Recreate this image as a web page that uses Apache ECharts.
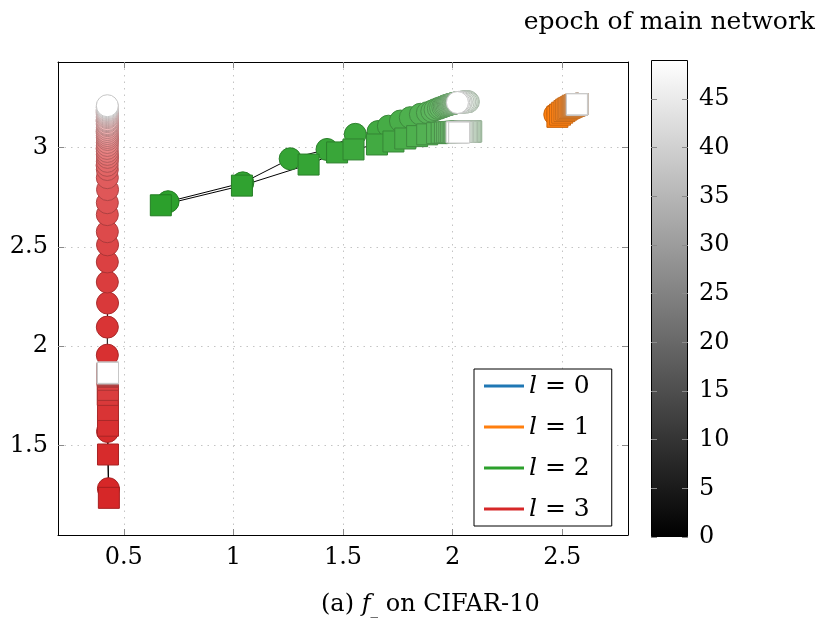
<!DOCTYPE html>
<html>
<head>
<meta charset="utf-8">
<script src="https://cdn.jsdelivr.net/npm/echarts@6/dist/echarts.min.js"></script>
<style>html,body{margin:0;padding:0;background:#fff}#c{width:824px;height:626px}</style>
</head>
<body>
<div id="c"></div>
<script>
// ---- data ----
const epochs = [0,1,2,3,4,5,6,7,8,9,10,11,12,13,14,15,16,17,18,19,20,21,22,23,24,25,26,27,28,29,30,31,32,33,34,35,36,37,38,39,40,41,42,43,44,45,46,47,48,49];
const legendNames = ['l = 0', 'l = 1', 'l = 2', 'l = 3'];
const xTicks = [0.5, 1, 1.5, 2, 2.5];
const yTicks = [1.5, 2, 2.5, 3];
const cbTicks = [0, 5, 10, 15, 20, 25, 30, 35, 40, 45];
const cbRange = [0, 49];

// l = 1 (orange)
const l1CircX = [2.466,2.48,2.492,2.502,2.512,2.52,2.528,2.534,2.54,2.545,2.549,2.552,2.554,2.556,2.558,2.559,2.56,2.561,2.562,2.563,2.563,2.564,2.564,2.565,2.565,2.565,2.566,2.566,2.566,2.566,2.567,2.567,2.567,2.567,2.567,2.568,2.568,2.568,2.568,2.568,2.568,2.568,2.568,2.567,2.567,2.567,2.567,2.566,2.566,2.566];
const l1CircY = [3.166,3.172,3.18,3.186,3.192,3.197,3.201,3.204,3.207,3.209,3.21,3.211,3.212,3.213,3.214,3.214,3.215,3.215,3.215,3.216,3.216,3.216,3.216,3.217,3.217,3.217,3.217,3.217,3.217,3.217,3.217,3.217,3.218,3.218,3.218,3.218,3.218,3.218,3.218,3.218,3.218,3.218,3.218,3.217,3.217,3.217,3.217,3.217,3.217,3.217];
const l1SqX = [2.478,2.49,2.50,2.51,2.518,2.525,2.532,2.538,2.543,2.547,2.55,2.553,2.555,2.557,2.559,2.56,2.561,2.562,2.563,2.564,2.564,2.565,2.565,2.566,2.566,2.566,2.567,2.567,2.567,2.568,2.568,2.568,2.568,2.569,2.569,2.569,2.569,2.57,2.57,2.57,2.57,2.57,2.57,2.569,2.569,2.569,2.568,2.568,2.568,2.567];
const l1SqY = [3.154,3.165,3.175,3.183,3.19,3.195,3.199,3.202,3.205,3.207,3.209,3.21,3.211,3.212,3.213,3.213,3.214,3.214,3.215,3.215,3.215,3.216,3.216,3.216,3.216,3.217,3.217,3.217,3.217,3.217,3.217,3.217,3.218,3.218,3.218,3.218,3.218,3.218,3.218,3.218,3.218,3.218,3.218,3.217,3.217,3.217,3.217,3.217,3.217,3.217];

// l = 2 (green)
const l2CircX = [0.702,1.043,1.259,1.427,1.556,1.66,1.707,1.762,1.807,1.853,1.885,1.905,1.92,1.935,1.945,1.955,1.962,1.968,1.974,1.98,1.985,1.99,1.995,2.0,2.003,2.006,2.01,2.013,2.016,2.02,2.025,2.03,2.034,2.038,2.042,2.046,2.05,2.055,2.06,2.065,2.07,2.072,2.068,2.062,2.055,2.048,2.04,2.035,2.028,2.022];
const l2CircY = [2.727,2.822,2.943,2.99,3.066,3.08,3.107,3.133,3.15,3.167,3.175,3.182,3.19,3.196,3.2,3.204,3.207,3.21,3.212,3.214,3.216,3.218,3.219,3.22,3.221,3.222,3.223,3.224,3.225,3.225,3.226,3.226,3.227,3.227,3.228,3.228,3.229,3.229,3.23,3.23,3.23,3.23,3.23,3.229,3.229,3.228,3.228,3.227,3.227,3.226];
const l2SqX = [0.669,1.039,1.343,1.473,1.548,1.655,1.73,1.784,1.838,1.884,1.929,1.95,1.965,1.975,1.985,1.993,2.0,2.006,2.012,2.018,2.024,2.03,2.035,2.04,2.045,2.05,2.055,2.06,2.064,2.068,2.072,2.076,2.08,2.082,2.084,2.085,2.082,2.078,2.072,2.066,2.06,2.054,2.048,2.042,2.036,2.03,2.026,2.022,2.018,2.03];
const l2SqY = [2.709,2.808,2.914,2.975,2.99,3.015,3.03,3.045,3.057,3.066,3.072,3.074,3.075,3.076,3.077,3.077,3.078,3.078,3.079,3.079,3.079,3.08,3.08,3.08,3.08,3.08,3.081,3.081,3.081,3.081,3.081,3.081,3.081,3.081,3.081,3.08,3.08,3.08,3.08,3.079,3.079,3.079,3.078,3.078,3.078,3.077,3.077,3.076,3.076,3.075];

// l = 3 (red)
const l3CircX = [0.43,0.426,0.425,0.425,0.426,0.425,0.425,0.426,0.425,0.425,0.425,0.426,0.425,0.425,0.424,0.425,0.426,0.425,0.425,0.424,0.425,0.425,0.426,0.425,0.425,0.425,0.424,0.425,0.425,0.426,0.425,0.425,0.425,0.424,0.425,0.425,0.425,0.426,0.425,0.425,0.425,0.424,0.425,0.425,0.425,0.426,0.425,0.425,0.425,0.425];
const l3CircY = [1.283,1.571,1.955,2.096,2.217,2.323,2.424,2.510,2.576,2.662,2.722,2.788,2.848,2.889,2.91,2.93,2.95,2.965,2.98,2.995,3.01,3.025,3.04,3.05,3.06,3.07,3.08,3.09,3.10,3.11,3.115,3.12,3.13,3.135,3.14,3.15,3.155,3.16,3.165,3.17,3.175,3.18,3.185,3.19,3.19,3.195,3.2,3.2,3.205,3.21];
const l3SqX = [0.432,0.428,0.428,0.428,0.427,0.428,0.428,0.428,0.427,0.428,0.428,0.428,0.427,0.428,0.428,0.428,0.428,0.427,0.428,0.428,0.428,0.428,0.427,0.428,0.428,0.428,0.428,0.427,0.428,0.428,0.428,0.428,0.427,0.428,0.428,0.428,0.428,0.427,0.428,0.428,0.428,0.428,0.427,0.428,0.428,0.428,0.428,0.427,0.428,0.428];
const l3SqY = [1.237,1.455,1.60,1.679,1.755,1.78,1.831,1.846,1.851,1.854,1.856,1.857,1.858,1.859,1.859,1.86,1.86,1.861,1.861,1.861,1.862,1.862,1.862,1.862,1.863,1.863,1.863,1.863,1.863,1.864,1.864,1.864,1.864,1.864,1.864,1.865,1.865,1.865,1.865,1.865,1.865,1.865,1.866,1.866,1.866,1.866,1.866,1.866,1.866,1.866];

const colors = ['#1f77b4', '#ff7f0e', '#2ca02c', '#d62728'];

// ---- build ----
const FONT = 'DejaVu Serif';
function hex2rgb(h) { return [1, 3, 5].map(i => parseInt(h.substr(i, 2), 16)); }
// border: darker shade of the (epoch-faded) fill colour
function borderFor(base, e) {
  const t = (e - cbRange[0]) / (cbRange[1] - cbRange[0]);
  const rgb = hex2rgb(base).map(v => Math.round((v + (255 - v) * t) * 0.78));
  return 'rgb(' + rgb.join(',') + ')';
}
function build(xs, ys, base) {
  return xs.map((x, i) => ({value: [x, ys[i], epochs[i]], itemStyle: {borderColor: borderFor(base, epochs[i])}}));
}
const groups = [
  {c: colors[1], circ: build(l1CircX, l1CircY, colors[1]), sq: build(l1SqX, l1SqY, colors[1])},
  {c: colors[2], circ: build(l2CircX, l2CircY, colors[2]), sq: build(l2SqX, l2SqY, colors[2])},
  {c: colors[3], circ: build(l3CircX, l3CircY, colors[3]), sq: build(l3SqX, l3SqY, colors[3])}
];

const series = [];
legendNames.forEach((n, i) => {
  series.push({name: n, type: 'line', data: [], itemStyle: {color: colors[i]}, lineStyle: {color: colors[i]}});
});
// connecting lines
groups.forEach(g => {
  [g.circ, g.sq].forEach(d => {
    series.push({type: 'line', data: d.map(p => [p.value[0], p.value[1]]), showSymbol: false, symbol: 'none',
      lineStyle: {color: '#000', width: 1}, z: 1, silent: true, animation: false});
  });
});
const visualMaps = [];
groups.forEach(g => {
  [['circle', 22, g.circ], ['rect', 21, g.sq]].forEach(([sym, size, d]) => {
    visualMaps.push({type: 'continuous', show: false, dimension: 2, min: cbRange[0], max: cbRange[1],
      seriesIndex: series.length, inRange: {color: [g.c, '#ffffff']}});
    series.push({type: 'scatter', data: d, symbol: sym, symbolSize: size, z: 2,
      itemStyle: {borderWidth: 1, opacity: 1}, animation: false});
  });
});
// colorbar
series.push({type: 'bar', xAxisIndex: 2, yAxisIndex: 2, data: [cbRange[1]], barWidth: '100%', animation: false, silent: true,
  itemStyle: {borderColor: '#000', borderWidth: 1,
    color: new echarts.graphic.LinearGradient(0, 1, 0, 0, [{offset: 0, color: '#000'}, {offset: 1, color: '#fff'}])}});

const tickStyle = {show: true, inside: true, length: 6, lineStyle: {color: '#8a8a8a', width: 1}};
const gridLine = {show: true, lineStyle: {color: '#c4c4c4', width: 1, type: [1.5, 5]}};
const axLine = {show: true, onZero: false, lineStyle: {color: '#000', width: 1}};
const lbl = {color: '#000', fontFamily: FONT, fontSize: 24};

const option = {
  animation: false,
  backgroundColor: '#fff',
  title: [
    {text: 'epoch of main network', right: 4, top: 5, textStyle: {fontFamily: FONT, fontSize: 25, fontWeight: 'normal', color: '#000'}},
    {text: '(a) {i|f}{s|_} on CIFAR-10', left: 316, top: 586,
      textStyle: {fontFamily: FONT, fontSize: 24, fontWeight: 'normal', color: '#000',
        rich: {i: {fontFamily: FONT, fontStyle: 'italic', fontSize: 24, color: '#000'},
               s: {fontFamily: FONT, fontSize: 15, color: '#000', verticalAlign: 'bottom', padding: [12, 0, 0, 0]}}}}
  ],
  grid: [
    {left: 58, top: 62, right: 196, bottom: 91},
    {left: 651, top: 60, width: 37, bottom: 89}
  ],
  legend: {
    data: legendNames, orient: 'vertical', left: 474, top: 369, icon: 'rect', itemWidth: 40, itemHeight: 3,
    itemGap: 15, padding: [4, 22, 4, 10], borderColor: '#000', borderWidth: 1, backgroundColor: '#fff',
    selectedMode: false,
    formatter: n => '{i|l}{n| = ' + n.split('= ')[1] + '}',
    textStyle: {fontFamily: FONT, fontSize: 25, color: '#000', lineHeight: 26,
      rich: {i: {fontFamily: FONT, fontStyle: 'italic', fontSize: 25, color: '#000', lineHeight: 26},
             n: {fontFamily: FONT, fontSize: 25, color: '#000', lineHeight: 26}}}
  },
  visualMap: visualMaps,
  xAxis: [
    {type: 'value', gridIndex: 0, min: 0.2, max: 2.8, position: 'bottom', axisLine: axLine,
      axisTick: Object.assign({customValues: xTicks}, tickStyle),
      axisLabel: Object.assign({customValues: xTicks, margin: 11}, lbl), splitLine: gridLine},
    {type: 'value', gridIndex: 0, min: 0.2, max: 2.8, position: 'top', axisLine: axLine,
      axisTick: Object.assign({customValues: xTicks}, tickStyle), axisLabel: {show: false}, splitLine: {show: false}},
    {type: 'category', gridIndex: 1, data: ['cb'], show: false}
  ],
  yAxis: [
    {type: 'value', gridIndex: 0, min: 1.05, max: 3.43, position: 'left', axisLine: axLine,
      axisTick: Object.assign({customValues: yTicks}, tickStyle),
      axisLabel: Object.assign({customValues: yTicks, margin: 10}, lbl), splitLine: gridLine},
    {type: 'value', gridIndex: 0, min: 1.05, max: 3.43, position: 'right', axisLine: axLine,
      axisTick: Object.assign({customValues: yTicks}, tickStyle), axisLabel: {show: false}, splitLine: {show: false}},
    {type: 'value', gridIndex: 1, min: cbRange[0], max: cbRange[1], position: 'right', z: 5,
      axisLine: {show: false}, splitLine: {show: false},
      axisTick: Object.assign({customValues: cbTicks}, tickStyle),
      axisLabel: Object.assign({customValues: cbTicks, margin: 11}, lbl)},
    {type: 'value', gridIndex: 1, min: cbRange[0], max: cbRange[1], position: 'left', z: 5,
      axisLine: {show: false}, splitLine: {show: false},
      axisTick: Object.assign({customValues: cbTicks}, tickStyle), axisLabel: {show: false}}
  ],
  series: series
};
const chart = echarts.init(document.getElementById('c'), null, {renderer: 'canvas'});
chart.setOption(option);
</script>
</body>
</html>
